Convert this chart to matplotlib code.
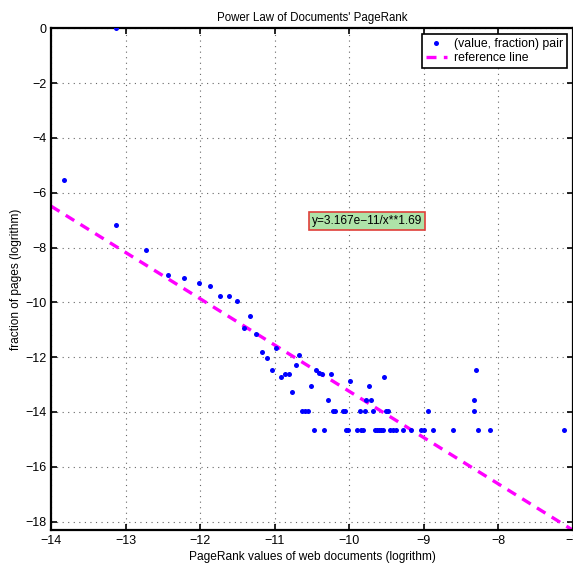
import matplotlib
matplotlib.use("Agg")
import matplotlib.pyplot as plt
import numpy as np

plt.rcParams['font.family'] = ['Liberation Sans', 'DejaVu Sans']

# PageRank value (log) and fraction of pages (log)
pr_values = [-13.82, -13.125, -13.125, -12.72, -12.43, -12.21, -12.02, -11.87, -11.73, -11.61,
             -11.51, -11.33, -11.41, -11.25, -11.17, -11.10, -10.98, -11.03, -10.92, -10.86,
             -10.81, -10.77, -10.72, -10.67, -10.63, -10.59, -10.55, -10.51, -10.47, -10.44,
             -10.40, -10.37, -10.34, -10.28, -10.25, -10.22, -10.19, -10.09, -10.06, -10.04,
             -10.02, -9.99, -9.89, -9.86, -9.84, -9.81, -9.79, -9.77, -9.74, -9.71,
             -9.68, -9.65, -9.63, -9.60, -9.57, -9.55, -9.53, -9.51, -9.48, -9.46,
             -9.42, -9.38, -9.28, -9.17, -9.04, -9.00, -8.95, -8.88, -8.61, -8.33,
             -8.33, -8.30, -8.28, -8.11, -7.12]
fractions = [-5.54, 0.0, -7.18, -8.09, -9.01, -9.11, -9.30, -9.40, -9.78, -9.78,
             -9.95, -10.51, -10.94, -11.16, -11.82, -12.03, -11.67, -12.48, -12.73, -12.61,
             -12.61, -13.28, -12.28, -11.91, -13.98, -13.98, -13.98, -13.07, -14.66, -12.48,
             -12.59, -12.61, -14.66, -13.58, -12.61, -13.98, -13.98, -13.98, -13.98, -14.66,
             -14.66, -12.88, -14.66, -13.98, -14.66, -14.66, -13.98, -13.58, -13.07, -13.58,
             -13.98, -14.66, -14.66, -14.66, -14.66, -14.66, -12.73, -13.98, -13.98, -14.66,
             -14.66, -14.66, -14.66, -14.66, -14.66, -14.66, -13.98, -14.66, -14.66, -13.58,
             -13.98, -12.48, -14.66, -14.66, -14.66]

# reference line in log space
ref_slope = -1.69
ref_intercept = -30.15
ref_x = [-14.0, -7.0]
fit_label = "y=3.167e\u221211/x**1.69"

FS = 8.3

fig = plt.figure(figsize=(5.73, 5.70), dpi=100)
ax = fig.add_axes([51 / 573, 40 / 570, 522 / 573, (530 - 28.3) / 570])

ax.plot(pr_values, fractions, linestyle='none', marker='o', markersize=3.6,
        color='blue', markeredgewidth=0, label='(value, fraction) pair', zorder=3)
rx = np.array(ref_x)
ax.plot(rx, ref_intercept + ref_slope * rx, linestyle=(0, (3, 2.2)), color='magenta',
        linewidth=2.4, label='reference line', zorder=2)

ax.set_xlim(-14, -7)
ax.set_ylim(-18.31, 0)
ax.set_xticks(np.arange(-14, -6, 1))
ax.set_yticks(np.arange(-18, 1, 2))
ax.grid(True, linestyle=(0, (1, 4)), color='#666666', linewidth=0.8)
ax.tick_params(direction='in', top=True, right=True, length=4, width=1.2, labelsize=FS + 0.7)
for s in ax.spines.values():
    s.set_linewidth(1.6)

ax.set_title("Power Law of Documents' PageRank", fontsize=FS, pad=5)
ax.set_xlabel("PageRank values of web documents (logrithm)", fontsize=FS + 0.3, labelpad=3)
ax.set_ylabel("fraction of pages (logrithm)", fontsize=FS + 0.3, labelpad=2)

ax.text(-10.5, -7.03, fit_label, fontsize=FS + 0.3, va='center', ha='left',
        bbox=dict(boxstyle='square,pad=0.25', facecolor='#aee3a8', edgecolor='#e0403a', linewidth=1.2))

leg = ax.legend(loc='upper right', fontsize=FS + 0.5, frameon=True, fancybox=False,
                edgecolor='black', framealpha=1, borderaxespad=0.5, handlelength=1.7,
                borderpad=0.3, labelspacing=0.15, handletextpad=0.6)
leg.get_frame().set_linewidth(1.2)

fig.savefig('out.png', dpi=100)
